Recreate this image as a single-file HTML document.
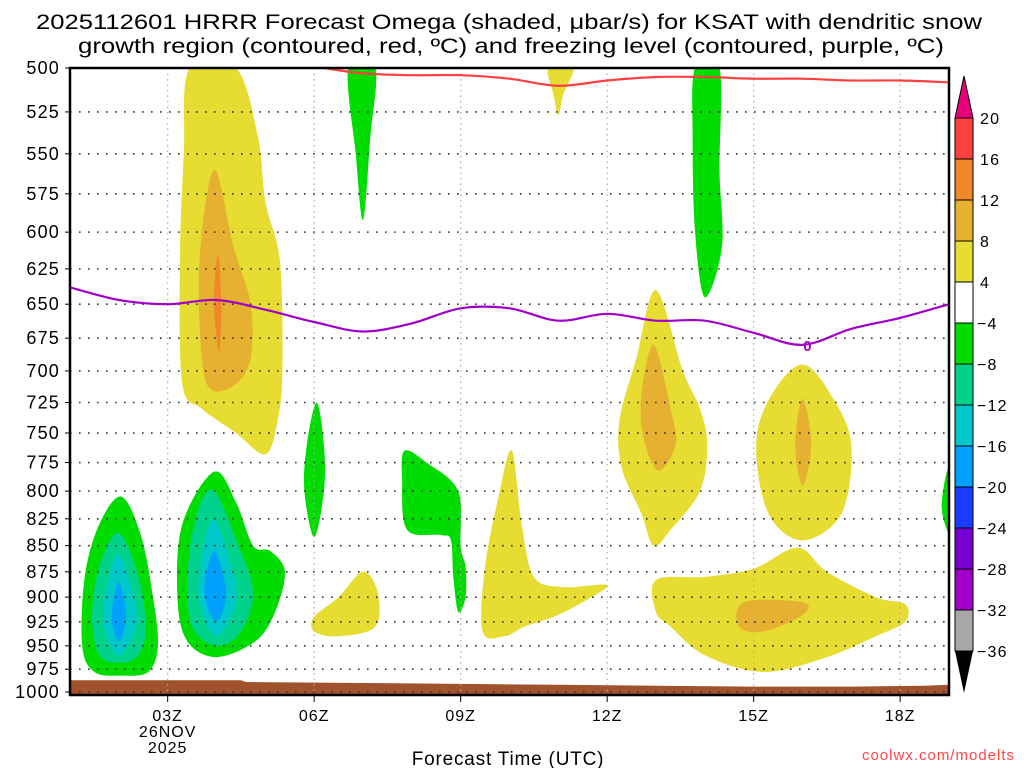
<!DOCTYPE html>
<html><head><meta charset="utf-8"><style>
html,body{margin:0;padding:0;background:#fff;}
svg{display:block;font-family:"Liberation Sans","DejaVu Sans",sans-serif;}
</style></head><body>
<svg id="chart" width="1024" height="768" viewBox="0 0 1024 768" xmlns="http://www.w3.org/2000/svg">
<text x="509" y="29" font-size="21" text-anchor="middle" textLength="946" lengthAdjust="spacingAndGlyphs">2025112601 HRRR Forecast Omega (shaded, μbar/s) for KSAT with dendritic snow</text>
<text x="511" y="53" font-size="21" text-anchor="middle" textLength="866" lengthAdjust="spacingAndGlyphs">growth region (contoured, red, ºC) and freezing level (contoured, purple, ºC)</text>
<g id="shades"></g>
<g id="grid"></g>
<g id="lines"></g>
<rect x="70" y="68" width="879" height="627" fill="none" stroke="#000" stroke-width="2.5"/>
<g id="axes"></g>
<g id="cbar"></g>
<text x="508" y="765" font-size="19" text-anchor="middle" letter-spacing="0.8">Forecast Time (UTC)</text>
<text x="1015" y="760" font-size="15" fill="#ff4848" text-anchor="end" letter-spacing="1">coolwx.com/modelts</text>
</svg>
<script>
// ---- data ----
const pressureTicks = [500,525,550,575,600,625,650,675,700,725,750,775,800,825,850,875,900,925,950,975,1000];
const timeTickHours = [3,6,9,12,15,18];
const timeTickLabels = ["03Z","06Z","09Z","12Z","15Z","18Z"];
const cbarLevels = [20,16,12,8,4,-4,-8,-12,-16,-20,-24,-28,-32,-36];
const cbarColors = ["#ff4040","#f08828","#e6b030","#e6dc32","#ffffff","#00dc00","#00d28c","#00c8c8","#00a0ff","#1e3cff","#7800d2","#a000c8","#a8a8a8"];
const redLineHours = [6.2,7,8,9,10,11,12,13,14,15,16,17,18,19];
const redLineP = [500,503,504,504,506,510,507,505,505,506,506,507,507,508];
const purpleHours = [1,2,3,4,5,6,7,8,9,10,11,12,13,14,15,16,17,18,19];
const purpleP = [638,647,650,647,654,663,670,664,653,653,662,657,662,662,671,680,668,660,650];
const terrainHours = [1,4.5,4.6,7,9,11,13,15,17,18.5,19];
const terrainP = [987,987,989,990,991,992,993,994,994,993,992];
// shaded regions: [omega level color index, [[hour, hPa], ...]]
const blobs = [
 [3,[[3.45,500],[4.4,500],[4.85,540],[5.0,580],[5.3,620],[5.35,700],[5.25,740],[5.0,768],[4.4,750],[3.7,730],[3.3,710],[3.25,620],[3.33,550]]],
 [2,[[3.95,560],[4.35,610],[4.7,650],[4.7,690],[4.4,710],[3.9,715],[3.7,690],[3.65,620]]],
 [1,[[4.03,615],[4.1,650],[4.05,685],[3.95,650]]],
 [5,[[6.7,500],[7.25,500],[7.15,540],[7.0,592],[6.85,550]]],
 [5,[[6.05,725],[6.2,760],[6.2,800],[6.0,842],[5.8,800],[5.85,760]]],
 [5,[[7.85,765],[8.3,775],[8.95,800],[9.0,850],[9.1,870],[9.1,900],[8.95,915],[8.85,880],[8.8,845],[8.6,840],[7.9,835],[7.8,790]]],
 [3,[[10.05,765],[10.25,830],[10.5,880],[11.1,890],[12.0,888],[11.5,905],[10.9,920],[10.3,930],[9.9,940],[9.45,935],[9.5,870],[9.8,800]]],
 [3,[[7.0,875],[7.3,895],[7.25,930],[6.5,940],[6.0,935],[6.0,920],[6.5,900]]],
 [3,[[10.8,500],[11.3,500],[11.1,515],[11.0,527],[10.9,515]]],
 [5,[[13.8,500],[14.3,500],[14.3,560],[14.35,610],[14.0,645],[13.8,600],[13.75,540]]],
 [3,[[13.0,640],[13.55,700],[13.9,730],[14.05,760],[13.9,800],[13.3,835],[12.95,850],[12.7,820],[12.3,780],[12.25,740],[12.6,690]]],
 [2,[[12.95,680],[13.3,730],[13.4,760],[13.05,782],[12.75,755],[12.7,720]]],
 [3,[[16.0,695],[16.6,720],[17.0,760],[16.8,820],[16.0,845],[15.3,820],[15.05,760],[15.35,720]]],
 [2,[[16.0,722],[16.18,760],[16.0,795],[15.85,760]]],
 [3,[[13.0,883],[14.0,880],[15.0,872],[15.9,852],[16.5,875],[17.5,900],[18.1,907],[18.1,925],[17.5,940],[16.5,962],[15.2,978],[14.0,960],[13.3,930],[13.0,915]]],
 [2,[[14.8,905],[16.0,905],[16.0,918],[15.2,935],[14.7,930]]],
 [5,[[19.0,780],[19.05,840],[18.85,815]]],
 [5,[[2.05,805],[2.45,840],[2.7,900],[2.8,950],[2.6,978],[2.05,982],[1.5,978],[1.25,950],[1.3,880],[1.6,830]]],
 [6,[[2.0,838],[2.4,880],[2.55,930],[2.4,960],[2.0,968],[1.6,960],[1.45,920],[1.6,870]]],
 [7,[[2.0,858],[2.3,900],[2.35,930],[2.0,960],[1.7,930],[1.75,890]]],
 [8,[[2.0,885],[2.15,920],[2.0,945],[1.85,920]]],
 [5,[[3.95,783],[4.4,810],[4.75,850],[5.1,855],[5.4,875],[5.2,915],[4.8,945],[4.0,962],[3.4,945],[3.2,900],[3.3,830]]],
 [6,[[3.95,800],[4.45,850],[4.75,895],[4.5,935],[4.0,950],[3.5,930],[3.4,880],[3.6,820]]],
 [7,[[3.95,825],[4.3,870],[4.4,905],[4.0,940],[3.65,905],[3.7,860]]],
 [8,[[3.95,855],[4.2,895],[4.0,925],[3.75,895]]]
];
// ---- axes ----
const X0=70, X1=949, H0=1, H1=19, YTOP=68, YBOT=692;
function xOf(h){return X0+(h-H0)/(H1-H0)*(X1-X0);}
function yOf(p){return YTOP+Math.log(p/500)/Math.log(2)*(YBOT-YTOP);}
const NS="http://www.w3.org/2000/svg";
function mk(tag,attrs,parent){const e=document.createElementNS(NS,tag);for(const k in attrs)e.setAttribute(k,attrs[k]);parent.appendChild(e);return e;}
function smoothClosed(pts){
  const n=pts.length;let d="M"+pts[0][0].toFixed(1)+","+pts[0][1].toFixed(1);
  for(let i=0;i<n;i++){const p0=pts[(i-1+n)%n],p1=pts[i],p2=pts[(i+1)%n],p3=pts[(i+2)%n];
    const c1=[p1[0]+(p2[0]-p0[0])/6,p1[1]+(p2[1]-p0[1])/6],c2=[p2[0]-(p3[0]-p1[0])/6,p2[1]-(p3[1]-p1[1])/6];
    d+=" C"+c1[0].toFixed(1)+","+c1[1].toFixed(1)+" "+c2[0].toFixed(1)+","+c2[1].toFixed(1)+" "+p2[0].toFixed(1)+","+p2[1].toFixed(1);}
  return d+"Z";}
function smoothOpen(pts){
  let d="M"+pts[0][0].toFixed(1)+","+pts[0][1].toFixed(1);
  for(let i=0;i<pts.length-1;i++){const p0=pts[Math.max(i-1,0)],p1=pts[i],p2=pts[i+1],p3=pts[Math.min(i+2,pts.length-1)];
    const c1=[p1[0]+(p2[0]-p0[0])/6,p1[1]+(p2[1]-p0[1])/6],c2=[p2[0]-(p3[0]-p1[0])/6,p2[1]-(p3[1]-p1[1])/6];
    d+=" C"+c1[0].toFixed(1)+","+c1[1].toFixed(1)+" "+c2[0].toFixed(1)+","+c2[1].toFixed(1)+" "+p2[0].toFixed(1)+","+p2[1].toFixed(1);}
  return d;}
const shades=document.getElementById('shades'),grid=document.getElementById('grid'),lines=document.getElementById('lines'),axes=document.getElementById('axes'),cbar=document.getElementById('cbar');
const defs=mk('defs',{},shades);const cp=mk('clipPath',{id:'pc'},defs);mk('rect',{x:X0,y:YTOP,width:X1-X0,height:695-YTOP},cp);
const sg=mk('g',{'clip-path':'url(#pc)'},shades);
blobs.forEach((b,i)=>{
  const pts=b[1].map(q=>[xOf(q[0]),yOf(q[1])]);
  const el=mk('path',{d:smoothClosed(pts),fill:cbarColors[b[0]]},sg);
  
  
});
{let d="M"+xOf(H0)+",695";terrainHours.forEach((h,i)=>{d+=" L"+xOf(h).toFixed(1)+","+yOf(terrainP[i]).toFixed(1);});d+=" L"+xOf(H1)+",695Z";
 const t=mk('path',{d:d,fill:'#a0522d'},sg);
 
 }
pressureTicks.forEach(p=>{const y=yOf(p);
  const l=mk('line',{x1:X0,x2:X1,y1:y,y2:y,stroke:'#333','stroke-width':1.6,'stroke-dasharray':'1.6 7.4'},grid);
  
  
  mk('line',{x1:X0-5,x2:X0,y1:y,y2:y,stroke:'#000','stroke-width':1},axes);
  const t=mk('text',{x:60,y:y+6,'font-size':18,'text-anchor':'end','letter-spacing':1.2},axes);t.textContent=p;
  
  
});
timeTickHours.forEach((h,i)=>{const x=xOf(h);
  const l=mk('line',{x1:x,x2:x,y1:YTOP,y2:695,stroke:'#aaa','stroke-width':1.2,'stroke-dasharray':'1.5 4'},grid);
  
  
  mk('line',{x1:x,x2:x,y1:695,y2:702,stroke:'#000','stroke-width':1},axes);
  const t=mk('text',{x:x,y:721,'font-size':16,'text-anchor':'middle','letter-spacing':1},axes);t.textContent=timeTickLabels[i];
  
  
});
{const x=xOf(3);const a=mk('text',{x:x,y:737,'font-size':16,'text-anchor':'middle','letter-spacing':1},axes);a.textContent="26NOV";
 
 
 const b=mk('text',{x:x,y:753,'font-size':16,'text-anchor':'middle','letter-spacing':1},axes);b.textContent="2025";
 
 }
{const lg=mk('g',{'clip-path':'url(#pc)'},lines);
 const r=mk('path',{d:smoothOpen(redLineHours.map((h,i)=>[xOf(h),yOf(redLineP[i])])),fill:'none',stroke:'#ff4040','stroke-width':2.2},lg);
 
 
 const pu=mk('path',{d:smoothOpen(purpleHours.map((h,i)=>[xOf(h),yOf(purpleP[i])])),fill:'none',stroke:'#a000c8','stroke-width':2.2},lg);
 
 
 const lbl=mk('text',{x:xOf(16.1),y:yOf(680)+6,'font-size':15,'font-weight':'bold',fill:'#a000c8','text-anchor':'middle'},lines);lbl.textContent="0";
 
 }
{const cx=955,cw=18,top=118,step=41;
 mk('path',{d:`M${cx},${top} L${cx+cw},${top} L${cx+cw/2},${top-42}Z`,fill:'#e8007a',stroke:'#000','stroke-width':1},cbar);
 cbarColors.forEach((c,i)=>{const r=mk('rect',{x:cx,y:top+i*step,width:cw,height:step,fill:c,stroke:'#000','stroke-width':1},cbar);
  
  });
 const bot=top+cbarColors.length*step;
 mk('path',{d:`M${cx},${bot} L${cx+cw},${bot} L${cx+cw/2},${bot+42}Z`,fill:'#000'},cbar);
 cbarLevels.forEach((v,i)=>{const t=mk('text',{x:v<0?977:980,y:top+i*step+6,'font-size':16,'letter-spacing':1.2},cbar);t.textContent=v<0?"\u2212"+(-v):v;
  
  });}
</script>
</body></html>
